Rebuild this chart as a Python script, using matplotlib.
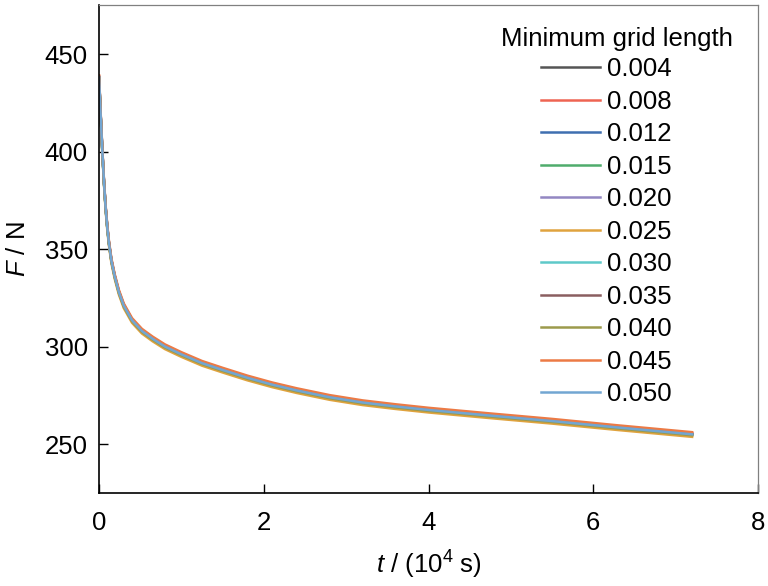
import numpy as np
import matplotlib
matplotlib.use("Agg")
import matplotlib.pyplot as plt

plt.rcParams['font.family'] = ['Liberation Sans', 'DejaVu Sans']
plt.rcParams['mathtext.fontset'] = 'custom'
plt.rcParams['mathtext.rm'] = 'Liberation Sans'
plt.rcParams['mathtext.it'] = 'Liberation Sans:italic'

# time in 1e4 s
t = [0, 0.01, 0.02, 0.04, 0.06, 0.08, 0.10, 0.12, 0.15, 0.19, 0.24, 0.3, 0.4, 0.52, 0.65,
     0.8, 1.0, 1.25, 1.5, 1.8, 2.1, 2.4, 2.8, 3.2, 3.6, 4.0, 4.75, 5.5, 6.3, 7.2]

grid_labels = ["0.004", "0.008", "0.012", "0.015", "0.020", "0.025",
               "0.030", "0.035", "0.040", "0.045", "0.050"]

F_0004 = [438.3, 428.3, 418.3, 400.3, 384.3, 371.3, 361.3, 353.3, 344.3, 336.3, 328.3, 321.3, 313.8, 308.3, 304.3,
          300.3, 296.3, 291.8, 288.3, 284.3, 280.8, 277.8, 274.3, 271.6, 269.6, 267.8, 264.9, 262.1, 258.8, 255.3]
F_0008 = [438.6, 428.6, 418.6, 400.6, 384.6, 371.6, 361.6, 353.6, 344.6, 336.6, 328.6, 321.6, 314.1, 308.6, 304.6,
          300.6, 296.6, 292.1, 288.6, 284.6, 281.1, 278.1, 274.6, 271.9, 269.9, 268.1, 265.2, 262.4, 259.1, 255.6]
F_0012 = [438, 428, 418, 400, 384, 371, 361, 353, 344, 336, 328, 321, 313.5, 308, 304,
          300, 296, 291.5, 288, 284, 280.5, 277.5, 274, 271.3, 269.3, 267.5, 264.6, 261.8, 258.5, 255]
F_0015 = [437.7, 427.7, 417.7, 399.7, 383.7, 370.7, 360.7, 352.7, 343.7, 335.7, 327.7, 320.7, 313.2, 307.7, 303.7,
          299.7, 295.7, 291.2, 287.7, 283.7, 280.2, 277.2, 273.7, 271.0, 269.0, 267.2, 264.3, 261.5, 258.2, 254.7]
F_0020 = [438.2, 428.2, 418.2, 400.2, 384.2, 371.2, 361.2, 353.2, 344.2, 336.2, 328.2, 321.2, 313.7, 308.2, 304.2,
          300.2, 296.2, 291.7, 288.2, 284.2, 280.7, 277.7, 274.2, 271.5, 269.5, 267.7, 264.8, 262.0, 258.7, 255.2]
F_0025 = [436.7, 426.7, 416.7, 398.7, 382.7, 369.7, 359.7, 351.7, 342.7, 334.7, 326.7, 319.7, 312.2, 306.7, 302.7,
          298.7, 294.7, 290.2, 286.7, 282.7, 279.2, 276.2, 272.7, 270.0, 268.0, 266.2, 263.3, 260.5, 257.2, 253.7]
F_0030 = [438.1, 428.1, 418.1, 400.1, 384.1, 371.1, 361.1, 353.1, 344.1, 336.1, 328.1, 321.1, 313.6, 308.1, 304.1,
          300.1, 296.1, 291.6, 288.1, 284.1, 280.6, 277.6, 274.1, 271.4, 269.4, 267.6, 264.7, 261.9, 258.6, 255.1]
F_0035 = [438, 428, 418, 400, 384, 371, 361, 353, 344, 336, 328, 321, 313.5, 308, 304,
          300, 296, 291.5, 288, 284, 280.5, 277.5, 274, 271.3, 269.3, 267.5, 264.6, 261.8, 258.5, 255]
F_0040 = [437.5, 427.5, 417.5, 399.5, 383.5, 370.5, 360.5, 352.5, 343.5, 335.5, 327.5, 320.5, 313.0, 307.5, 303.5,
          299.5, 295.5, 291.0, 287.5, 283.5, 280.0, 277.0, 273.5, 270.8, 268.8, 267.0, 264.1, 261.3, 258.0, 254.5]
F_0045 = [439.1, 429.1, 419.1, 401.1, 385.1, 372.1, 362.1, 354.1, 345.1, 337.1, 329.1, 322.1, 314.6, 309.1, 305.1,
          301.1, 297.1, 292.6, 289.1, 285.1, 281.6, 278.6, 275.1, 272.4, 270.4, 268.6, 265.7, 262.9, 259.6, 256.1]
F_0050 = [438, 428, 418, 400, 384, 371, 361, 353, 344, 336, 328, 321, 313.5, 308, 304,
          300, 296, 291.5, 288, 284, 280.5, 277.5, 274, 271.3, 269.3, 267.5, 264.6, 261.8, 258.5, 255]

series = [F_0004, F_0008, F_0012, F_0015, F_0020, F_0025,
          F_0030, F_0035, F_0040, F_0045, F_0050]
colors = ["#555555", "#ee6452", "#3f6fb0", "#4fac6c", "#9387c2", "#e0a33e",
          "#5ec9c9", "#8a5e60", "#9c9a4c", "#ec7a45", "#72a6d2"]

fs = 18.5

fig = plt.figure(figsize=(7.68, 5.86), dpi=100)
ax = fig.add_axes([0.129, 0.159, 0.858, 0.832])

for F, c, lab in zip(series, colors, grid_labels):
    ax.plot(t, F, color=c, lw=1.8, label=lab)

ax.set_xlim(0, 8)
ax.set_ylim(225, 475)
ax.set_xticks([0, 2, 4, 6, 8])
ax.set_yticks([250, 300, 350, 400, 450])
ax.tick_params(direction='in', length=6.5, width=1.0, labelsize=fs)
ax.tick_params(axis='x', pad=13)
ax.tick_params(axis='y', pad=8)

for s in ['top', 'right']:
    ax.spines[s].set_color('#808080')
    ax.spines[s].set_linewidth(0.9)
for s in ['left', 'bottom']:
    ax.spines[s].set_linewidth(1.2)

ax.set_xlabel("$t$ / (10$^4$ s)", fontsize=fs, labelpad=10)
ax.set_ylabel("$F$ / N", fontsize=fs, labelpad=11)

# legend entries, title placed separately (centred a bit right of the entries)
leg = ax.legend(loc='upper left', bbox_to_anchor=(0.671, 0.893), frameon=False,
                fontsize=fs, handlelength=2.3, labelspacing=0.33,
                handletextpad=0.25, borderaxespad=0, borderpad=0)
ax.text(0.786, 0.930, "Minimum grid length", transform=ax.transAxes,
        ha='center', va='center', fontsize=fs)

fig.savefig("out.png", dpi=100)
